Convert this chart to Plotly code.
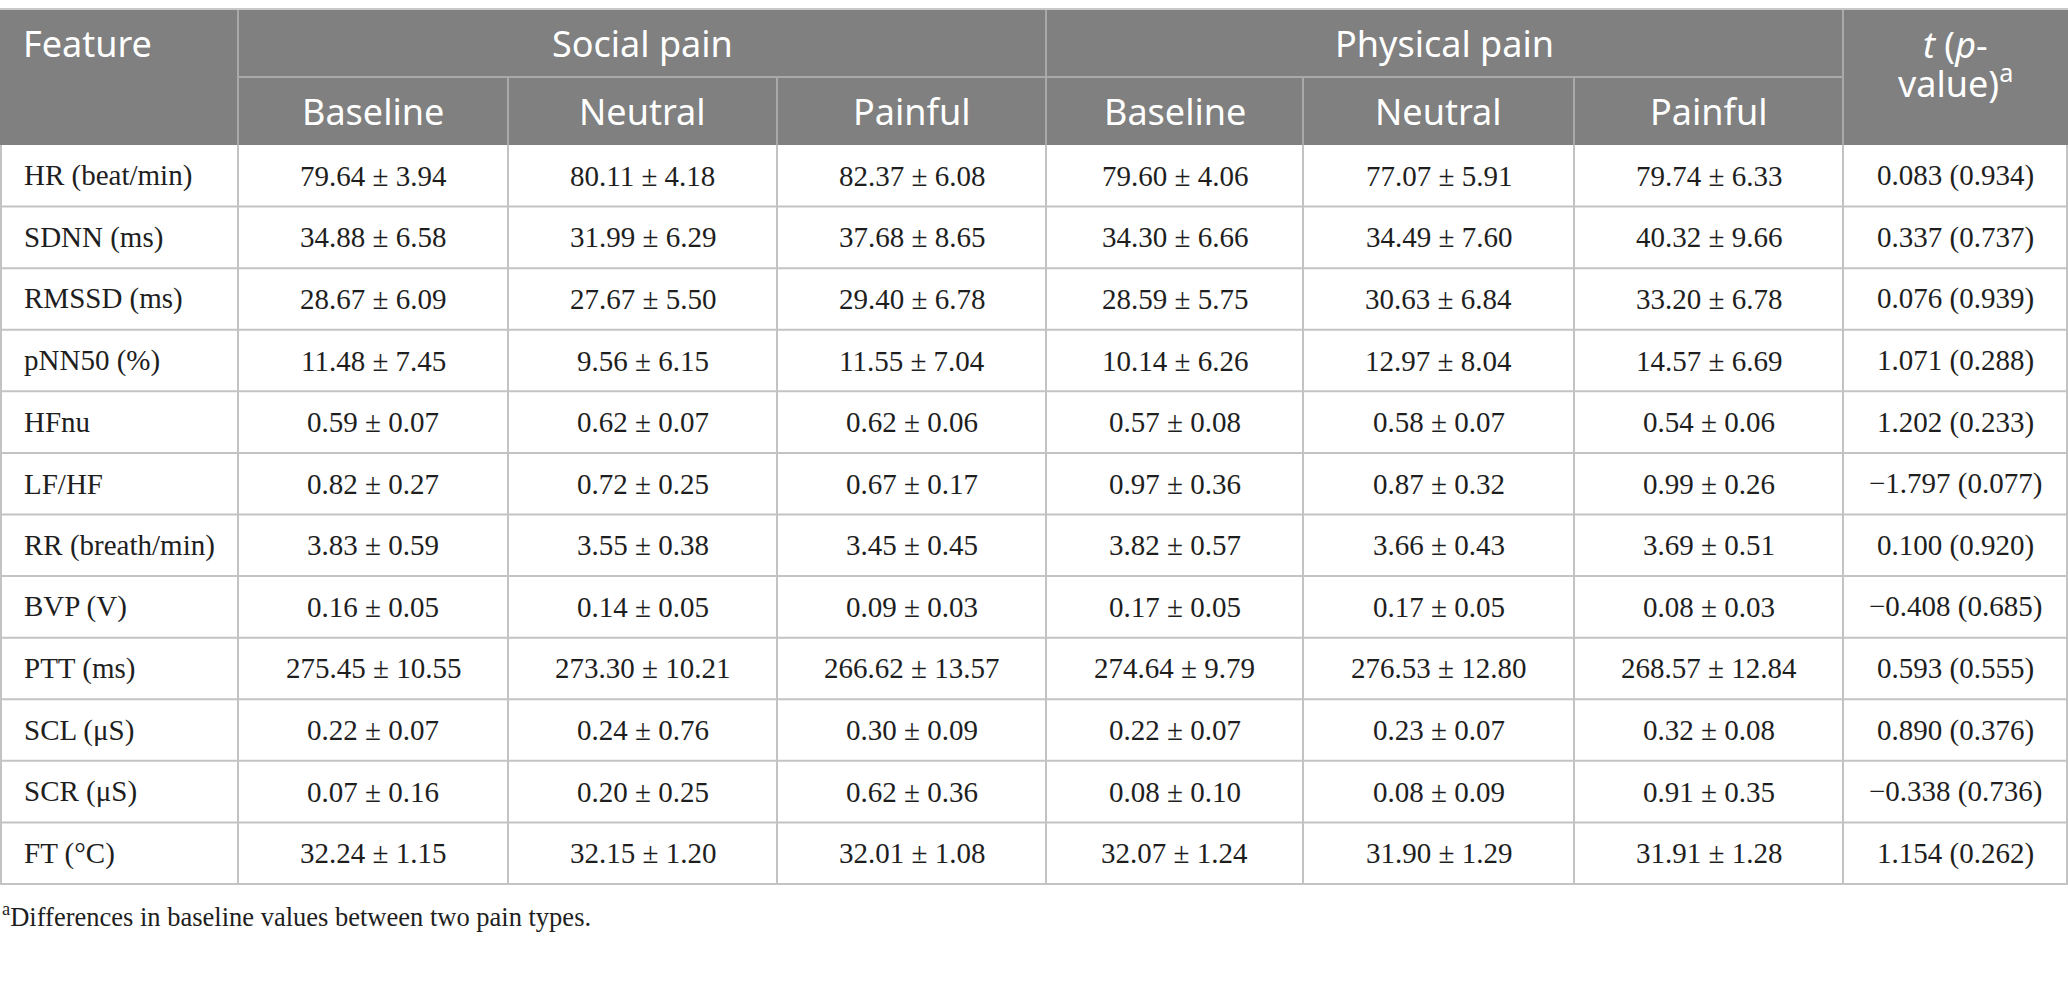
import plotly.graph_objects as go

# table data
features = ["HR (beat/min)", "SDNN (ms)", "RMSSD (ms)", "pNN50 (%)", "HFnu", "LF/HF",
            "RR (breath/min)", "BVP (V)", "PTT (ms)", "SCL (μS)", "SCR (μS)", "FT (°C)"]

social_base_mean = [79.64, 34.88, 28.67, 11.48, 0.59, 0.82, 3.83, 0.16, 275.45, 0.22, 0.07, 32.24]
social_base_sd = [3.94, 6.58, 6.09, 7.45, 0.07, 0.27, 0.59, 0.05, 10.55, 0.07, 0.16, 1.15]
social_neut_mean = [80.11, 31.99, 27.67, 9.56, 0.62, 0.72, 3.55, 0.14, 273.30, 0.24, 0.20, 32.15]
social_neut_sd = [4.18, 6.29, 5.50, 6.15, 0.07, 0.25, 0.38, 0.05, 10.21, 0.76, 0.25, 1.20]
social_pain_mean = [82.37, 37.68, 29.40, 11.55, 0.62, 0.67, 3.45, 0.09, 266.62, 0.30, 0.62, 32.01]
social_pain_sd = [6.08, 8.65, 6.78, 7.04, 0.06, 0.17, 0.45, 0.03, 13.57, 0.09, 0.36, 1.08]
phys_base_mean = [79.60, 34.30, 28.59, 10.14, 0.57, 0.97, 3.82, 0.17, 274.64, 0.22, 0.08, 32.07]
phys_base_sd = [4.06, 6.66, 5.75, 6.26, 0.08, 0.36, 0.57, 0.05, 9.79, 0.07, 0.10, 1.24]
phys_neut_mean = [77.07, 34.49, 30.63, 12.97, 0.58, 0.87, 3.66, 0.17, 276.53, 0.23, 0.08, 31.90]
phys_neut_sd = [5.91, 7.60, 6.84, 8.04, 0.07, 0.32, 0.43, 0.05, 12.80, 0.07, 0.09, 1.29]
phys_pain_mean = [79.74, 40.32, 33.20, 14.57, 0.54, 0.99, 3.69, 0.08, 268.57, 0.32, 0.91, 31.91]
phys_pain_sd = [6.33, 9.66, 6.78, 6.69, 0.06, 0.26, 0.51, 0.03, 12.84, 0.08, 0.35, 1.28]
t_values = [0.083, 0.337, 0.076, 1.071, 1.202, -1.797, 0.100, -0.408, 0.593, 0.890, -0.338, 1.154]
p_values = [0.934, 0.737, 0.939, 0.288, 0.233, 0.077, 0.920, 0.685, 0.555, 0.376, 0.736, 0.262]

groups = ["Social pain", "Physical pain"]
conditions = ["Baseline", "Neutral", "Painful"]
footnote = "<sup>a</sup>Differences in baseline values between two pain types."

# layout (pixels)
W, H = 2068, 1004
col_w = [238, 270, 269, 269, 257, 271, 269, 225]
xs = [0]
for w in col_w:
    xs.append(xs[-1] + w)
top, mid, head_bot = 9, 77, 145
row_h = (884 - head_bot) / len(features)
ys = [head_bot + i * row_h for i in range(len(features) + 1)]

HEAD_BG = "#7f807f"
HEAD_LINE = "#a8a9a8"
BODY_LINE = "#c3c3c3"
TXT = "#1e1e1e"
sans = "Noto Sans"
serif = "Liberation Serif"


def pm(m, s):
    return f"{m:.2f} ± {s:.2f}"


def tp(t, p):
    return f"{t:.3f} ({p:.3f})".replace("-", "−")


columns = [
    [pm(m, s) for m, s in zip(social_base_mean, social_base_sd)],
    [pm(m, s) for m, s in zip(social_neut_mean, social_neut_sd)],
    [pm(m, s) for m, s in zip(social_pain_mean, social_pain_sd)],
    [pm(m, s) for m, s in zip(phys_base_mean, phys_base_sd)],
    [pm(m, s) for m, s in zip(phys_neut_mean, phys_neut_sd)],
    [pm(m, s) for m, s in zip(phys_pain_mean, phys_pain_sd)],
    [tp(t, p) for t, p in zip(t_values, p_values)],
]

fig = go.Figure()
shapes = []
ann = []


def line(x0, y0, x1, y1, c, w=2):
    shapes.append(dict(type="line", x0=x0, y0=y0, x1=x1, y1=y1, xref="x", yref="y",
                       line=dict(color=c, width=w)))


# header block
shapes.append(dict(type="rect", x0=0, y0=top, x1=W, y1=head_bot, xref="x", yref="y",
                   fillcolor=HEAD_BG, line=dict(width=0), layer="below"))
line(xs[1], mid, xs[7], mid, HEAD_LINE)
for i, x in enumerate(xs[1:-1], start=1):
    if i in (1, 4, 7):
        line(x, top, x, head_bot, HEAD_LINE)
    else:
        line(x, mid, x, head_bot, HEAD_LINE)

# body grid
for y in ys[1:]:
    line(0, y, W, y, BODY_LINE)
for x in xs[1:-1]:
    line(x, head_bot, x, ys[-1], BODY_LINE)
line(1, head_bot, 1, ys[-1], BODY_LINE)
line(W - 1, head_bot, W - 1, ys[-1], BODY_LINE)
line(0, top, W, top, "#c8c8c8")

hfont = dict(family=sans, size=36, color="white")
ann.append(dict(x=21, y=(top + mid) / 2, text="Feature", xanchor="left", font=hfont))
for g, name in enumerate(groups):
    ann.append(dict(x=(xs[1 + 3 * g] + xs[4 + 3 * g]) / 2, y=(top + mid) / 2, text=name,
                    font=hfont))
    for c, cond in enumerate(conditions):
        k = 1 + 3 * g + c
        ann.append(dict(x=(xs[k] + xs[k + 1]) / 2, y=(mid + head_bot) / 2, text=cond, font=hfont))
tx = (xs[7] + xs[8]) / 2
ann.append(dict(x=tx, y=44, text="<i>t</i> (<i>p</i>-", font=hfont))
ann.append(dict(x=tx, y=81, text="value)<sup>a</sup>", font=hfont))

bfont = dict(family=serif, size=29, color=TXT)
for r, f in enumerate(features):
    yc = (ys[r] + ys[r + 1]) / 2
    ann.append(dict(x=22, y=yc, text=f, xanchor="left", font=bfont))
    for c, col in enumerate(columns):
        ann.append(dict(x=(xs[c + 1] + xs[c + 2]) / 2, y=yc, text=col[r], font=bfont))

ann.append(dict(x=0, y=915, text=footnote, xanchor="left",
                font=dict(family=serif, size=26.5, color=TXT)))

for a in ann:
    a.setdefault("xanchor", "center")
    a.update(xref="x", yref="y", yanchor="middle", showarrow=False)

fig.update_layout(
    width=W, height=H,
    margin=dict(l=0, r=0, t=0, b=0),
    paper_bgcolor="white", plot_bgcolor="white",
    xaxis=dict(range=[0, W], visible=False, fixedrange=True),
    yaxis=dict(range=[H, 0], visible=False, fixedrange=True),
    shapes=shapes, annotations=ann, showlegend=False,
)

fig.write_html("out.html", config={"displayModeBar": False},
               post_script="document.body.style.margin='0';")
